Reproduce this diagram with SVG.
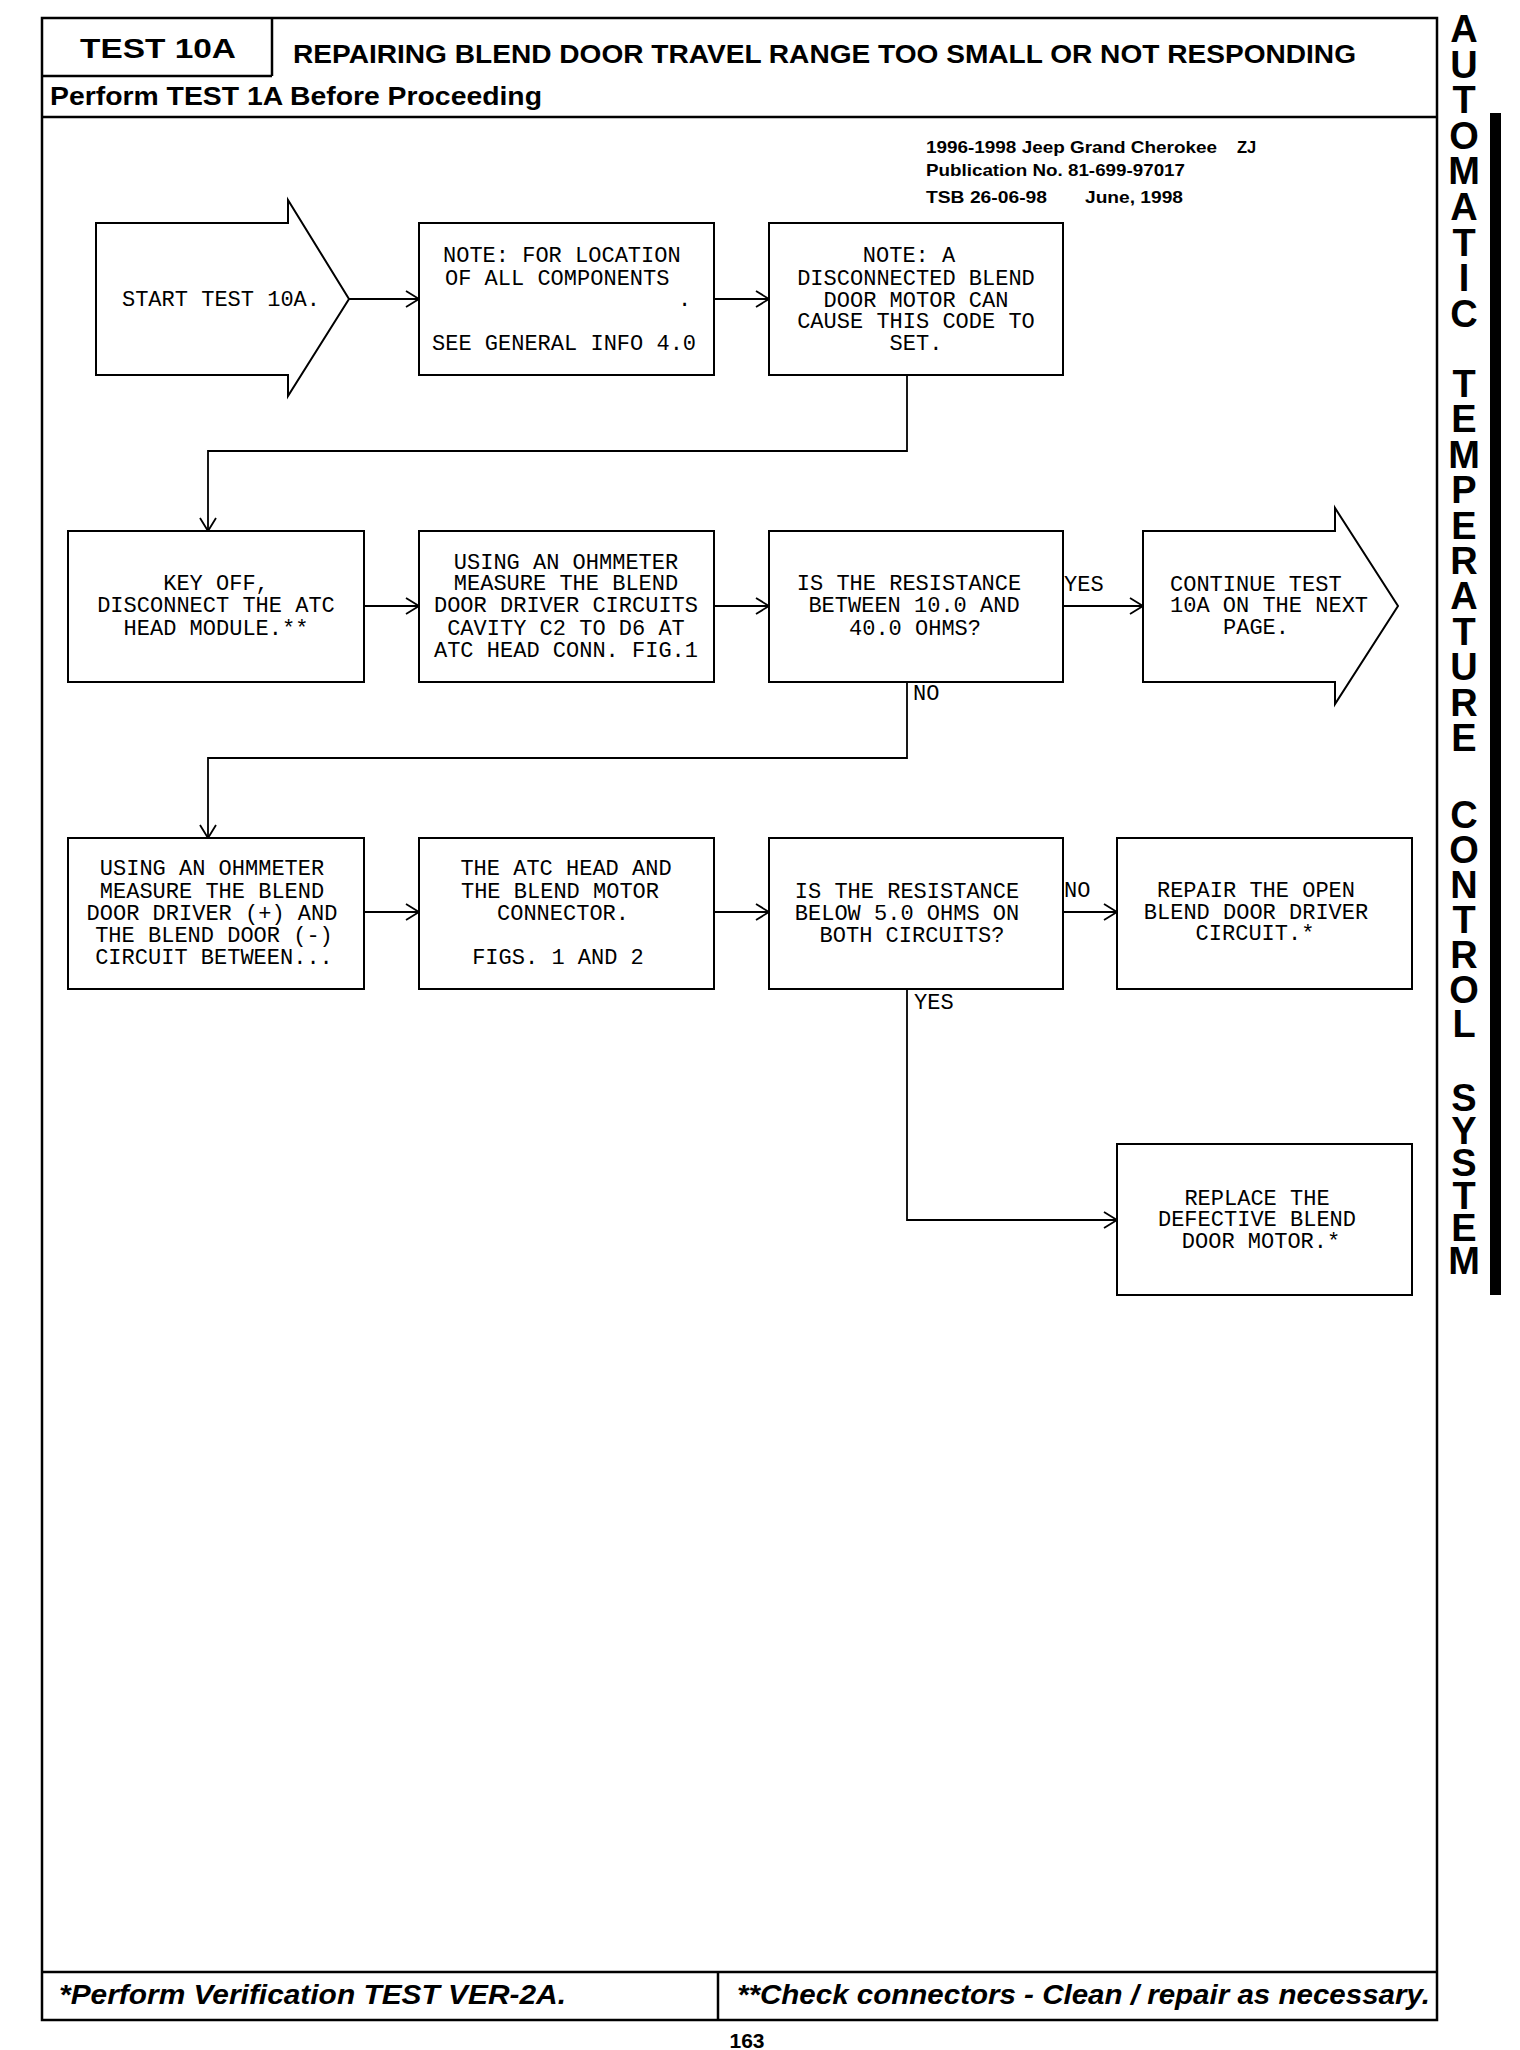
<svg xmlns="http://www.w3.org/2000/svg" width="1520" height="2050" viewBox="0 0 1520 2050">
<style>
.frame{fill:none;stroke:#000;stroke-width:2.5}
.box{fill:#fff;stroke:#000;stroke-width:2}
.con{fill:none;stroke:#000;stroke-width:1.8}
.t{font-family:"Liberation Mono","DejaVu Sans Mono",monospace;font-size:22px;fill:#000;text-anchor:middle}
.tl{font-family:"Liberation Mono","DejaVu Sans Mono",monospace;font-size:22px;fill:#000}
.hd{font-family:"Liberation Sans",Arial,sans-serif;font-weight:bold;fill:#000}
.ft{font-family:"Liberation Sans",Arial,sans-serif;font-weight:bold;font-style:italic;font-size:28px;fill:#000}
.pub{font-family:"Liberation Sans",Arial,sans-serif;font-weight:bold;font-size:16.5px;fill:#000}
.side{font-family:"Liberation Sans",Arial,sans-serif;font-weight:bold;font-size:38px;fill:#000;writing-mode:vertical-rl;text-orientation:upright}
</style>
<defs>
<marker id="ah" markerUnits="userSpaceOnUse" markerWidth="16" markerHeight="18" refX="14" refY="9" orient="auto">
<path d="M1,1 L14,9 L1,17" fill="none" stroke="#000" stroke-width="1.8"/>
</marker>
</defs>
<rect width="1520" height="2050" fill="#fff"/>

<g id="page-frame">
<rect class="frame" x="42" y="18" width="1395" height="2002"/>
<line class="frame" x1="272" y1="18" x2="272" y2="76"/>
<line class="frame" x1="42" y1="76" x2="272" y2="76"/>
<line class="frame" x1="42" y1="117" x2="1437" y2="117"/>
<line class="frame" x1="42" y1="1972" x2="1437" y2="1972"/>
<line class="frame" x1="718" y1="1972" x2="718" y2="2020"/>
<text class="hd" x="80" y="58" font-size="28" textLength="156" lengthAdjust="spacingAndGlyphs">TEST 10A</text>
<text class="hd" x="293" y="63" font-size="26" textLength="1063" lengthAdjust="spacingAndGlyphs">REPAIRING BLEND DOOR TRAVEL RANGE TOO SMALL OR NOT RESPONDING</text>
<text class="hd" x="50" y="105" font-size="25" textLength="492" lengthAdjust="spacingAndGlyphs">Perform TEST 1A Before Proceeding</text>
<text class="pub" x="926" y="153" textLength="291" lengthAdjust="spacingAndGlyphs">1996-1998 Jeep Grand Cherokee</text>
<text class="pub" x="1237" y="153">ZJ</text>
<text class="pub" x="926" y="176" textLength="259" lengthAdjust="spacingAndGlyphs">Publication No. 81-699-97017</text>
<text class="pub" x="926" y="203" textLength="121" lengthAdjust="spacingAndGlyphs">TSB 26-06-98</text>
<text class="pub" x="1085" y="203" textLength="98" lengthAdjust="spacingAndGlyphs">June, 1998</text>
<text class="ft" x="59" y="2004" textLength="507" lengthAdjust="spacingAndGlyphs">*Perform Verification TEST VER-2A.</text>
<text class="ft" x="737" y="2004" textLength="693" lengthAdjust="spacingAndGlyphs">**Check connectors - Clean / repair as necessary.</text>
<text class="hd" x="747" y="2048" font-size="21" text-anchor="middle">163</text>
</g>

<g id="side-title">
<rect x="1490" y="113" width="11" height="1182" fill="#000"/>
<text class="side" x="1464" y="8" letter-spacing="-6.4">AUTOMATIC</text>
<text class="side" x="1464" y="363" letter-spacing="-6.6">TEMPERATURE</text>
<text class="side" x="1464" y="794" letter-spacing="-7.1">CONTROL</text>
<text class="side" x="1464" y="1077" letter-spacing="-9.4">SYSTEM</text>
</g>

<g id="connectors">
<line class="con" x1="349" y1="299" x2="419" y2="299" marker-end="url(#ah)"/>
<line class="con" x1="714" y1="299" x2="769" y2="299" marker-end="url(#ah)"/>
<polyline class="con" points="907,375 907,451 208,451 208,531" marker-end="url(#ah)"/>
<line class="con" x1="364" y1="606" x2="419" y2="606" marker-end="url(#ah)"/>
<line class="con" x1="714" y1="606" x2="769" y2="606" marker-end="url(#ah)"/>
<line class="con" x1="1063" y1="606" x2="1143" y2="606" marker-end="url(#ah)"/>
<polyline class="con" points="907,682 907,758 208,758 208,838" marker-end="url(#ah)"/>
<line class="con" x1="364" y1="912" x2="419" y2="912" marker-end="url(#ah)"/>
<line class="con" x1="714" y1="912" x2="769" y2="912" marker-end="url(#ah)"/>
<line class="con" x1="1063" y1="912" x2="1117" y2="912" marker-end="url(#ah)"/>
<polyline class="con" points="907,989 907,1220 1117,1220" marker-end="url(#ah)"/>
<text class="tl" x="1064" y="591">YES</text>
<text class="tl" x="913" y="700">NO</text>
<text class="tl" x="1064" y="897">NO</text>
<text class="tl" x="914" y="1009">YES</text>
</g>

<g id="start">
<polygon class="box" points="96,223 288,223 288,200 349,299 288,396 288,375 96,375"/>
<text class="t" x="221" y="306">START TEST 10A.</text>
</g>

<g id="note-location">
<rect class="box" x="419" y="223" width="295" height="152"/>
<text class="tl" x="443" y="262">NOTE: FOR LOCATION</text>
<text class="tl" x="445" y="285">OF ALL COMPONENTS</text>
<text class="tl" x="678" y="306">.</text>
<text class="tl" x="432" y="350">SEE GENERAL INFO 4.0</text>
</g>

<g id="note-disconnected">
<rect class="box" x="769" y="223" width="294" height="152"/>
<text class="t" x="909" y="262">NOTE: A</text>
<text class="t" x="916" y="285">DISCONNECTED BLEND</text>
<text class="t" x="916" y="307">DOOR MOTOR CAN</text>
<text class="t" x="916" y="328">CAUSE THIS CODE TO</text>
<text class="t" x="916" y="350">SET.</text>
</g>

<g id="key-off">
<rect class="box" x="68" y="531" width="296" height="151"/>
<text class="t" x="216" y="590">KEY OFF,</text>
<text class="t" x="216" y="612">DISCONNECT THE ATC</text>
<text class="t" x="216" y="635">HEAD MODULE.**</text>
</g>

<g id="measure-cavity">
<rect class="box" x="419" y="531" width="295" height="151"/>
<text class="t" x="566" y="569">USING AN OHMMETER</text>
<text class="t" x="566" y="590">MEASURE THE BLEND</text>
<text class="t" x="566" y="612">DOOR DRIVER CIRCUITS</text>
<text class="t" x="566" y="635">CAVITY C2 TO D6 AT</text>
<text class="t" x="566" y="657">ATC HEAD CONN. FIG.1</text>
</g>

<g id="resistance-10-40">
<rect class="box" x="769" y="531" width="294" height="151"/>
<text class="t" x="909" y="590">IS THE RESISTANCE</text>
<text class="t" x="914" y="612">BETWEEN 10.0 AND</text>
<text class="t" x="915" y="635">40.0 OHMS?</text>
</g>

<g id="continue">
<polygon class="box" points="1143,531 1335,531 1335,508 1398,606 1335,704 1335,682 1143,682"/>
<text class="tl" x="1170" y="591">CONTINUE TEST</text>
<text class="tl" x="1170" y="612">10A ON THE NEXT</text>
<text class="tl" x="1223" y="634">PAGE.</text>
</g>

<g id="measure-driver">
<rect class="box" x="68" y="838" width="296" height="151"/>
<text class="t" x="212" y="875">USING AN OHMMETER</text>
<text class="t" x="212" y="898">MEASURE THE BLEND</text>
<text class="t" x="212" y="920">DOOR DRIVER (+) AND</text>
<text class="t" x="214" y="942">THE BLEND DOOR (-)</text>
<text class="t" x="214" y="964">CIRCUIT BETWEEN...</text>
</g>

<g id="head-and-motor">
<rect class="box" x="419" y="838" width="295" height="151"/>
<text class="t" x="566" y="875">THE ATC HEAD AND</text>
<text class="t" x="560" y="898">THE BLEND MOTOR</text>
<text class="t" x="563" y="920">CONNECTOR.</text>
<text class="t" x="558" y="964">FIGS. 1 AND 2</text>
</g>

<g id="resistance-below-5">
<rect class="box" x="769" y="838" width="294" height="151"/>
<text class="t" x="907" y="898">IS THE RESISTANCE</text>
<text class="t" x="907" y="920">BELOW 5.0 OHMS ON</text>
<text class="t" x="912" y="942">BOTH CIRCUITS?</text>
</g>

<g id="repair-open">
<rect class="box" x="1117" y="838" width="295" height="151"/>
<text class="t" x="1256" y="897">REPAIR THE OPEN</text>
<text class="t" x="1256" y="919">BLEND DOOR DRIVER</text>
<text class="t" x="1255" y="940">CIRCUIT.*</text>
</g>

<g id="replace-motor">
<rect class="box" x="1117" y="1144" width="295" height="151"/>
<text class="t" x="1257" y="1205">REPLACE THE</text>
<text class="t" x="1257" y="1226">DEFECTIVE BLEND</text>
<text class="t" x="1261" y="1248">DOOR MOTOR.*</text>
</g>
</svg>
